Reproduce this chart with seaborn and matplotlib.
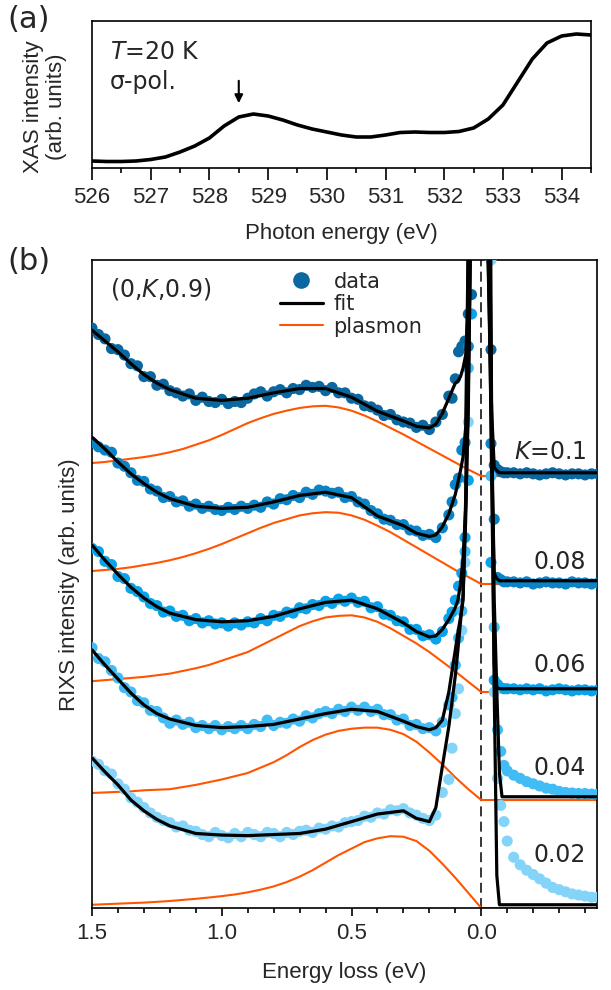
import matplotlib
matplotlib.use('Agg')
import matplotlib.pyplot as plt
import seaborn as sns
import numpy as np
from matplotlib.lines import Line2D
from matplotlib.ticker import MultipleLocator

sns.set_style('ticks')
plt.rcParams['font.family'] = ['Liberation Sans', 'DejaVu Sans']
plt.rcParams['mathtext.fontset'] = 'dejavusans'

# ---------------- panel (a): XAS ----------------
xas_energy = [526.0, 526.25, 526.5, 526.75, 527.0, 527.25, 527.5, 527.75, 528.0, 528.25,
              528.5, 528.75, 529.0, 529.25, 529.5, 529.75, 530.0, 530.25, 530.5, 530.75,
              531.0, 531.25, 531.5, 531.75, 532.0, 532.25, 532.5, 532.75, 533.0, 533.25,
              533.5, 533.75, 534.0, 534.25, 534.5]
xas_intensity = [0.07, 0.065, 0.065, 0.07, 0.085, 0.11, 0.16, 0.22, 0.30, 0.42,
                 0.51, 0.54, 0.52, 0.48, 0.43, 0.39, 0.36, 0.33, 0.31, 0.31,
                 0.33, 0.355, 0.36, 0.355, 0.355, 0.365, 0.40, 0.49, 0.63, 0.86,
                 1.09, 1.25, 1.32, 1.34, 1.33]
arrow_energy = 528.5

# ---------------- panel (b): RIXS ----------------
K_labels = ['$K$=0.1', '0.08', '0.06', '0.04', '0.02']
offsets = [4, 3, 2, 1, 0]
data_colors = ['#0a679f', '#0a84c6', '#0aa2e8', '#41bcf5', '#84d3f8']

data_energy = [1.5, 1.475, 1.45, 1.425, 1.4, 1.375, 1.35, 1.325, 1.3, 1.275, 1.25, 1.225, 1.2,
               1.175, 1.15, 1.125, 1.1, 1.075, 1.05, 1.025, 1.0, 0.975, 0.95, 0.925, 0.9,
               0.875, 0.85, 0.825, 0.8, 0.775, 0.75, 0.725, 0.7, 0.675, 0.65, 0.625, 0.6,
               0.575, 0.55, 0.525, 0.5, 0.475, 0.45, 0.425, 0.4, 0.375, 0.35, 0.325, 0.3,
               0.275, 0.25, 0.225, 0.2, 0.175, 0.15, 0.125,
               0.1125, 0.1, 0.0875, 0.075, 0.0625, 0.05, 0.0375, 0.025, 0.0125, 0.0,
               -0.0125, -0.025, -0.0375, -0.05, -0.0625, -0.075, -0.0875, -0.1,
               -0.125, -0.15, -0.175, -0.2, -0.225, -0.25, -0.275, -0.3, -0.325, -0.35,
               -0.375, -0.4, -0.425, -0.45]

data_010 = [1.37, 1.31, 1.27, 1.18, 1.17, 1.12, 1.04, 1.02, 0.92, 0.92, 0.84, 0.85, 0.79,
            0.77, 0.74, 0.76, 0.70, 0.73, 0.69, 0.68, 0.71, 0.67, 0.69, 0.68, 0.72,
            0.76, 0.78, 0.74, 0.78, 0.80, 0.77, 0.81, 0.80, 0.84, 0.82, 0.83, 0.79,
            0.82, 0.77, 0.77, 0.72, 0.71, 0.65, 0.64, 0.61, 0.56, 0.57, 0.52, 0.50,
            0.49, 0.45, 0.47, 0.43, 0.50, 0.57, 0.74,
            0.72, 0.90, 1.15, 1.20, 1.25, 1.50, 1.68, 3.0, 6.0, 8.0,
            6.0, 2.5, 1.17, 0.10, 0.06, 0.04, 0.03, 0.03,
            0.03, 0.02, 0.03, 0.02, 0.01, 0.02, 0.03, 0.02, 0.01, 0.02, 0.02, 0.01, 0.02, 0.02]
data_008 = [1.31, 1.27, 1.24, 1.22, 1.12, 1.09, 1.03, 0.96, 0.95, 0.88, 0.86, 0.80, 0.81,
            0.76, 0.77, 0.72, 0.74, 0.70, 0.72, 0.69, 0.68, 0.71, 0.69, 0.72, 0.70,
            0.73, 0.71, 0.76, 0.74, 0.79, 0.78, 0.82, 0.80, 0.85, 0.83, 0.87, 0.86,
            0.84, 0.85, 0.80, 0.81, 0.76, 0.74, 0.68, 0.65, 0.60, 0.59, 0.55, 0.55,
            0.50, 0.49, 0.45, 0.46, 0.43, 0.52, 0.64,
            0.76, 0.92, 0.98, 1.24, 1.31, 2.2, 4.0, 6.0, 8.0, 9.0,
            7.0, 4.0, 1.3, 0.6, 0.06, 0.04, 0.02, 0.02,
            0.02, 0.01, 0.02, 0.0, 0.01, 0.02, 0.01, 0.01, 0.0, 0.02, 0.01, 0.01, 0.0, 0.01]
data_006 = [1.33, 1.30, 1.21, 1.18, 1.07, 1.05, 0.96, 0.93, 0.88, 0.82, 0.80, 0.74, 0.75,
            0.70, 0.71, 0.66, 0.68, 0.64, 0.66, 0.63, 0.64, 0.61, 0.64, 0.62, 0.65,
            0.64, 0.68, 0.66, 0.71, 0.70, 0.74, 0.73, 0.78, 0.77, 0.81, 0.80, 0.84,
            0.82, 0.86, 0.84, 0.87, 0.83, 0.84, 0.78, 0.79, 0.72, 0.71, 0.66, 0.65,
            0.58, 0.58, 0.52, 0.53, 0.49, 0.56, 0.68,
            0.74, 0.85, 0.98, 1.10, 1.43, 1.96, 3.5, 6.0, 8.0, 9.0,
            8.0, 4.5, 1.2, 0.11, 0.07, 0.04, 0.03, 0.03,
            0.03, 0.02, 0.03, 0.02, 0.03, 0.01, 0.02, 0.03, 0.02, 0.01, 0.02, 0.02, 0.01, 0.02]
data_004 = [1.41, 1.31, 1.28, 1.20, 1.13, 1.04, 1.00, 0.92, 0.90, 0.83, 0.82, 0.76, 0.71,
            0.74, 0.70, 0.72, 0.67, 0.69, 0.66, 0.69, 0.65, 0.68, 0.66, 0.69, 0.66,
            0.70, 0.68, 0.74, 0.69, 0.72, 0.71, 0.75, 0.73, 0.78, 0.76, 0.80, 0.82,
            0.80, 0.84, 0.82, 0.86, 0.83, 0.86, 0.82, 0.84, 0.79, 0.79, 0.74, 0.75,
            0.69, 0.70, 0.66, 0.67, 0.64, 0.72, 0.88,
            0.95, 1.25, 1.5, 1.75, 2.3, 4.0, 7.0, 9.0, 10.0, 10.0,
            9.0, 6.0, 3.0, 1.6, 0.65, 0.45, 0.32, 0.27,
            0.23, 0.20, 0.17, 0.15, 0.13, 0.11, 0.10, 0.08, 0.07, 0.065, 0.06, 0.06, 0.055, 0.055]
data_002 = [1.36, 1.33, 1.27, 1.24, 1.15, 1.10, 1.02, 0.98, 0.93, 0.88, 0.84, 0.81, 0.79,
            0.75, 0.76, 0.72, 0.71, 0.68, 0.66, 0.70, 0.67, 0.65, 0.69, 0.66, 0.70,
            0.68, 0.66, 0.70, 0.69, 0.66, 0.70, 0.68, 0.71, 0.72, 0.70, 0.74, 0.73,
            0.76, 0.75, 0.79, 0.80, 0.81, 0.85, 0.84, 0.88, 0.87, 0.91, 0.90, 0.92,
            0.88, 0.86, 0.83, 0.81, 0.86, 1.07, 1.19,
            1.48, 1.8, 2.03, 2.57, 3.2, 4.5, 6.5, 10.0, 14.0, 15.0,
            14.0, 10.0, 6.0, 2.0, 1.2, 0.95, 0.80, 0.62,
            0.47, 0.40, 0.35, 0.31, 0.27, 0.23, 0.19, 0.17, 0.15, 0.13, 0.12, 0.11, 0.10, 0.10]

fit_energy = [1.5, 1.45, 1.4, 1.35, 1.3, 1.25, 1.2, 1.1, 1.0, 0.9, 0.8, 0.7, 0.6, 0.5, 0.4,
              0.3, 0.25, 0.2, 0.175, 0.15, 0.125, 0.1, 0.09, 0.08, 0.07, 0.06, 0.05, 0.04,
              0.03, 0.02, 0.0, -0.02, -0.03, -0.04, -0.05, -0.06, -0.07, -0.08, -0.1, -0.45]
fit_010 = [1.35, 1.25, 1.15, 1.04, 0.94, 0.86, 0.80, 0.72, 0.70, 0.72, 0.77, 0.81, 0.81, 0.73,
           0.60, 0.51, 0.46, 0.445, 0.48, 0.58, 0.72, 0.86, 0.88, 0.92, 1.0, 1.12, 1.6, 2.6,
           5.0, 10.0, 25.0, 2.6, 1.6, 0.6, 0.08, 0.05, 0.03, 0.03, 0.03, 0.03]
fit_008 = [1.36, 1.25, 1.13, 1.02, 0.93, 0.85, 0.79, 0.72, 0.70, 0.71, 0.76, 0.82, 0.85, 0.80,
           0.63, 0.54, 0.47, 0.44, 0.455, 0.53, 0.65, 0.83, 0.94, 1.05, 1.18, 1.45, 3.2, 6.0,
           10.0, 15.0, 30.0, 4.0, 2.6, 1.2, 0.1, 0.05, 0.03, 0.03, 0.03, 0.03]
fit_006 = [1.36, 1.22, 1.09, 0.97, 0.87, 0.79, 0.73, 0.67, 0.65, 0.66, 0.70, 0.77, 0.83, 0.85,
           0.77, 0.64, 0.56, 0.51, 0.52, 0.58, 0.67, 0.78, 0.85, 1.0, 1.25, 1.7, 2.6, 4.5,
           8.0, 15.0, 35.0, 6.0, 4.0, 2.0, 0.25, 0.04, 0.03, 0.03, 0.03, 0.03]
fit_004 = [1.39, 1.25, 1.12, 0.99, 0.88, 0.80, 0.75, 0.69, 0.67, 0.68, 0.70, 0.75, 0.80, 0.84,
           0.82, 0.73, 0.68, 0.65, 0.67, 0.74, 1.0, 1.39, 1.55, 1.69, 1.85, 2.8, 5.2, 8.0,
           12.0, 18.0, 40.0, 9.0, 6.0, 3.5, 1.85, 1.0, 0.25, 0.03, 0.03, 0.03]
fit_002 = [1.39, 1.26, 1.14, 1.0, 0.90, 0.82, 0.76, 0.69, 0.675, 0.67, 0.68, 0.69, 0.73, 0.80,
           0.87, 0.90, 0.83, 0.80, 0.93, 1.31, 1.68, 2.15, 2.39, 2.65, 2.9, 3.6, 4.8, 6.3,
           10.0, 18.0, 45.0, 15.0, 9.0, 4.5, 2.0, 0.3, 0.03, 0.03, 0.03, 0.03]

plasmon_energy = [1.5, 1.45, 1.4, 1.35, 1.3, 1.25, 1.2, 1.15, 1.1, 1.05, 1.0, 0.95, 0.9,
                  0.85, 0.8, 0.75, 0.7, 0.65, 0.6, 0.55, 0.5, 0.45, 0.4, 0.35, 0.3, 0.25,
                  0.2, 0.15, 0.1, 0.05, 0.0, -0.45]
plasmon_010 = [0.12, 0.13, 0.145, 0.16, 0.175, 0.195, 0.22, 0.25, 0.29, 0.33, 0.38, 0.435,
               0.49, 0.535, 0.575, 0.605, 0.63, 0.645, 0.65, 0.635, 0.605, 0.56, 0.505, 0.445,
               0.385, 0.32, 0.255, 0.19, 0.125, 0.06, 0.0, 0.0]
plasmon_008 = [0.12, 0.13, 0.14, 0.155, 0.175, 0.195, 0.22, 0.25, 0.285, 0.325, 0.37, 0.42,
               0.47, 0.52, 0.565, 0.60, 0.635, 0.655, 0.665, 0.66, 0.635, 0.595, 0.54, 0.48,
               0.41, 0.34, 0.27, 0.2, 0.13, 0.065, 0.0, 0.0]
plasmon_006 = [0.10, 0.11, 0.12, 0.13, 0.14, 0.155, 0.17, 0.195, 0.22, 0.25, 0.29, 0.33,
               0.37, 0.43, 0.49, 0.55, 0.61, 0.655, 0.69, 0.705, 0.71, 0.69, 0.65, 0.59,
               0.52, 0.45, 0.37, 0.28, 0.19, 0.095, 0.0, 0.0]
plasmon_004 = [0.065, 0.07, 0.075, 0.08, 0.09, 0.095, 0.10, 0.12, 0.14, 0.165, 0.19, 0.22,
               0.25, 0.30, 0.35, 0.415, 0.49, 0.555, 0.605, 0.64, 0.66, 0.67, 0.67, 0.65,
               0.61, 0.54, 0.44, 0.33, 0.21, 0.1, 0.0, 0.0]
plasmon_002 = [0.03, 0.035, 0.04, 0.045, 0.05, 0.057, 0.065, 0.075, 0.085, 0.097, 0.11, 0.125,
               0.145, 0.17, 0.20, 0.24, 0.29, 0.35, 0.42, 0.49, 0.55, 0.61, 0.645, 0.665,
               0.66, 0.62, 0.53, 0.41, 0.28, 0.14, 0.0, 0.0]

data_sets = [data_010, data_008, data_006, data_004, data_002]
fit_sets = [fit_010, fit_008, fit_006, fit_004, fit_002]
plasmon_sets = [plasmon_010, plasmon_008, plasmon_006, plasmon_004, plasmon_002]
label_pos = [(-0.405, 4.22), (-0.405, 3.20), (-0.405, 2.25), (-0.405, 1.30), (-0.405, 0.49)]

FIT_C = 'black'
PLAS_C = '#ff5500'
ANN = ['DejaVu Sans']

W, H = 611, 990
fig = plt.figure(figsize=(W / 100, H / 100), dpi=100)
axa = fig.add_axes([92 / W, 1 - 168 / H, 499 / W, 147 / H])
axb = fig.add_axes([92 / W, 1 - 908 / H, 505 / W, 648 / H])

for ax in (axa, axb):
    for s in ax.spines.values():
        s.set_linewidth(1.2)
        s.set_color('black')

# ---- (a) ----
sns.lineplot(x=xas_energy, y=xas_intensity, ax=axa, color='black', lw=2.6,
             estimator=None, sort=False)
axa.set_xlim(526, 534.5)
axa.set_ylim(0, 1.47)
axa.set_yticks([])
axa.xaxis.set_major_locator(MultipleLocator(1))
axa.xaxis.set_minor_locator(MultipleLocator(0.5))
axa.tick_params(axis='x', which='major', length=8.5, width=1.2, labelsize=16, pad=5,
                direction='out', color='black')
axa.tick_params(axis='x', which='minor', length=3.6, width=1.2, direction='out', color='black')
axa.set_xlabel('Photon energy (eV)', fontsize=16, labelpad=11)
axa.set_ylabel('')
axa.text(0.036, 0.789, '$T$=20 K', transform=axa.transAxes, fontsize=17, family=ANN,
         ha='left', va='center')
axa.text(0.036, 0.585, 'σ-pol.', transform=axa.transAxes, fontsize=17, family=ANN,
         ha='left', va='center')
axa.annotate('', xy=(arrow_energy, 0.62), xytext=(arrow_energy, 0.90),
             arrowprops=dict(arrowstyle='-|>', color='black', lw=1.5, mutation_scale=12))
fig.text(45 / W, 1 - 107 / H, 'XAS intensity\n(arb. units)', rotation=90, ha='center',
         va='center', fontsize=16, multialignment='center', linespacing=1.15)

# ---- (b) ----
axb.axvline(0.0, color='black', lw=1.1, ls=(0, (6.5, 3.5)), zorder=1)
for pl, off in zip(plasmon_sets, offsets):
    sns.lineplot(x=plasmon_energy, y=np.array(pl) + off, ax=axb, color=PLAS_C, lw=1.5,
                 estimator=None, sort=False, zorder=2)
for d, off, c in zip(data_sets, offsets, data_colors):
    sns.scatterplot(x=data_energy, y=np.array(d) + off, ax=axb, color=c, s=64,
                    edgecolor='none', linewidth=0, zorder=3)
for f, off in zip(fit_sets, offsets):
    sns.lineplot(x=fit_energy, y=np.array(f) + off, ax=axb, color=FIT_C, lw=2.3,
                 estimator=None, sort=False, zorder=4)

axb.set_xlim(1.5, -0.446)
axb.set_ylim(0, 6.0)
axb.set_yticks([])
axb.set_xticks([1.5, 1.0, 0.5, 0.0])
axb.set_xticklabels(['1.5', '1.0', '0.5', '0.0'])
axb.xaxis.set_minor_locator(MultipleLocator(0.1))
axb.tick_params(axis='x', which='major', length=5.8, width=1.2, labelsize=16, pad=5,
                direction='out', color='black')
axb.tick_params(axis='x', which='minor', length=3.6, width=1.2, direction='out', color='black')
axb.set_xlabel('Energy loss (eV)', fontsize=16, labelpad=13)
axb.set_ylabel('')
fig.text(69 / W, 1 - 585 / H, 'RIXS intensity (arb. units)', rotation=90, ha='center',
         va='center', fontsize=16)

for lab, (lx, ly) in zip(K_labels, label_pos):
    axb.text(lx, ly, lab, fontsize=17, family=ANN, ha='right', va='center')
axb.text(0.035, 0.955, '(0,$K$,0.9)', transform=axb.transAxes, fontsize=17, family=ANN,
         ha='left', va='center')

handles = [Line2D([], [], marker='o', ls='none', color=data_colors[0], markersize=12,
                  markeredgewidth=0),
           Line2D([], [], color=FIT_C, lw=2.3),
           Line2D([], [], color=PLAS_C, lw=1.5)]
axb.legend(handles, ['data', 'fit', 'plasmon'], loc='upper left',
           bbox_to_anchor=(0.372, 0.982), frameon=False, borderpad=0, borderaxespad=0,
           handlelength=2.07, handletextpad=0.5, labelspacing=0.12,
           prop={'family': 'DejaVu Sans', 'size': 15})

fig.text(7 / W, 1 - 19 / H, '(a)', fontsize=22, family=ANN, ha='left', va='center')
fig.text(7 / W, 1 - 262 / H, '(b)', fontsize=22, family=ANN, ha='left', va='center')

fig.savefig('out.png', dpi=100)
